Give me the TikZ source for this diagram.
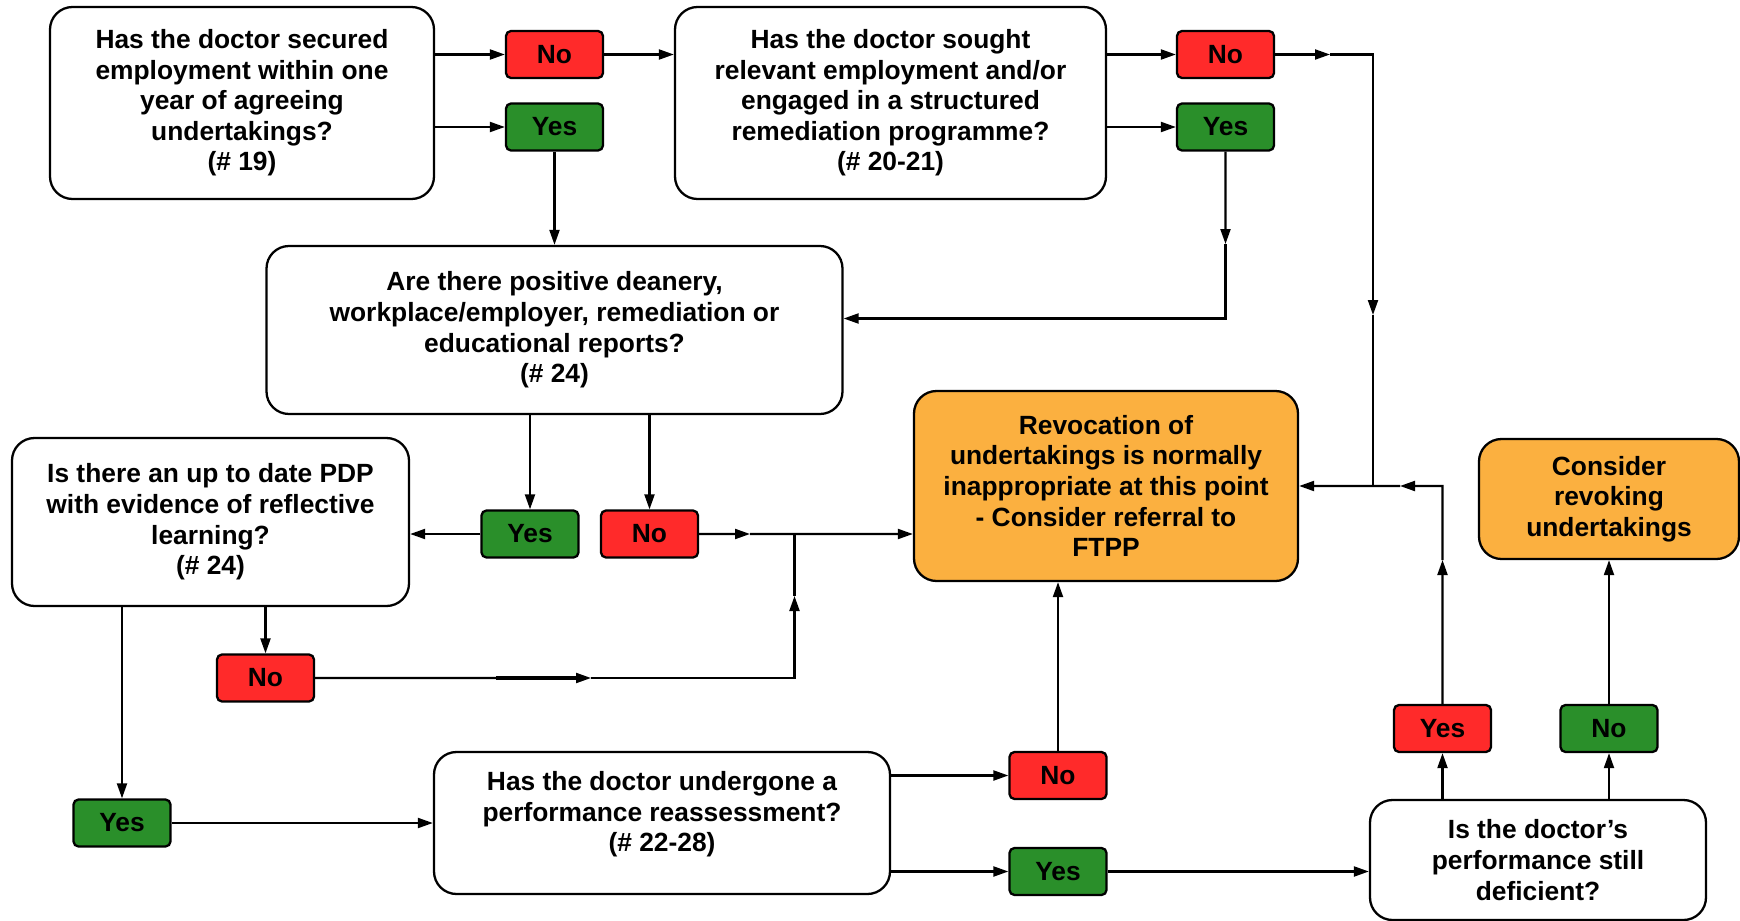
\documentclass[tikz,border=0pt]{standalone}
\usepackage{fontspec}
\setmainfont{Liberation Sans}
\usetikzlibrary{shapes.geometric, arrows.meta, positioning, calc}
\definecolor{tagred}{RGB}{255,42,42}
\definecolor{taggreen}{RGB}{42,143,42}
\definecolor{outorange}{RGB}{251,176,64}
\newcommand{\boxfont}{\bfseries\fontsize{15}{17.4}\selectfont}
\tikzset{
  question/.style={rectangle, rounded corners=0.45cm, draw=black, line width=1.3pt, fill=white, align=center, font=\boxfont},
  outcome/.style={rectangle, rounded corners=0.45cm, draw=black, line width=1.3pt, fill=outorange, align=center, font=\boxfont},
  redtag/.style={rectangle, rounded corners=0.1cm, draw=black, line width=1.3pt, fill=tagred, minimum width=1.94cm, minimum height=0.94cm, font=\boxfont},
  greentag/.style={rectangle, rounded corners=0.1cm, draw=black, line width=1.3pt, fill=taggreen, minimum width=1.94cm, minimum height=0.94cm, font=\boxfont},
  arrow/.style={line width=1.2pt, ->, >={Triangle[length=3mm, width=2mm]}},
  line/.style={line width=1.2pt}
}

\begin{document}
\begin{tikzpicture}[on grid]
\useasboundingbox (0,0) rectangle (34.8,-18.42);

% Nodes
\node (q1) [question, minimum width=7.68cm, minimum height=3.84cm] at (4.84,-2.06) {Has the doctor secured\\employment within one\\year of agreeing\\undertakings?\\(\# 19)};
\node (no1) [redtag, above right=0.97cm and 6.25cm of q1] {No};
\node (yes1) [greentag, below=1.45cm of no1] {Yes};
\node (q2) [question, minimum width=8.62cm, minimum height=3.84cm, right=12.97cm of q1] {Has the doctor sought\\relevant employment and/or\\engaged in a structured\\remediation programme?\\(\# 20-21)};
\node (no2) [redtag, above right=0.97cm and 6.70cm of q2] {No};
\node (yes2) [greentag, below=1.45cm of no2] {Yes};
\node (q3) [question, minimum width=11.52cm, minimum height=3.36cm, below=4.06cm of yes1] {Are there positive deanery,\\workplace/employer, remediation or\\educational reports?\\(\# 24)};
\node (yes3) [greentag, below left=4.08cm and 0.49cm of q3] {Yes};
\node (no3) [redtag, right=2.39cm of yes3] {No};
\node (q4) [question, minimum width=7.94cm, minimum height=3.36cm, above left=0.24cm and 6.39cm of yes3] {Is there an up to date PDP\\with evidence of reflective\\learning?\\(\# 24)};
\node (revoc) [outcome, minimum width=7.68cm, minimum height=3.8cm, above right=0.96cm and 9.13cm of no3] {Revocation of\\undertakings is normally\\inappropriate at this point\\- Consider referral to\\FTPP};
\node (no4) [redtag, below right=3.12cm and 1.10cm of q4] {No};
\node (yes4) [greentag, below left=6.02cm and 1.77cm of q4] {Yes};
\node (q5) [question, minimum width=9.12cm, minimum height=2.84cm, text depth=0.45cm, right=10.80cm of yes4] {Has the doctor undergone a\\performance reassessment?\\(\# 22-28)};
\node (no5) [redtag, above right=0.95cm and 7.92cm of q5] {No};
\node (yes5) [greentag, below=1.92cm of no5] {Yes};
\node (q6) [question, minimum width=6.72cm, minimum height=2.4cm, above right=0.23cm and 9.60cm of yes5] {Is the doctor’s\\performance still\\deficient?};
\node (yes6) [redtag, above left=2.63cm and 1.91cm of q6] {Yes};
\node (no6) [greentag, right=3.33cm of yes6] {No};
\node (consider) [outcome, minimum width=5.2cm, minimum height=2.4cm, above=4.59cm of no6] {Consider\\revoking\\undertakings};

% Junction points
\coordinate (n2tip) at (26.60,-1.09);
\coordinate (n2turn) at (27.46,-1.09);
\coordinate (n2vtip) at (27.46,-6.30);
\coordinate (busjoin) at (n2turn |- revoc.east);
\coordinate (y2tip) at (24.51,-4.88);
\coordinate (y2turn) at (24.51,-6.37);
\coordinate (n3tip) at (15.00,-10.68);
\coordinate (jn) at (15.89,-10.68);
\coordinate (n4thick) at (9.92,-13.56);
\coordinate (n4tip) at (11.82,-13.56);
\coordinate (n4turn) at (15.89,-13.56);
\coordinate (n4vtip) at (15.89,-11.92);
\coordinate (y6tip) at (28.85,-11.20);
\coordinate (y6turn) at (yes6 |- revoc.east);
\coordinate (y6htip) at (28.00,-9.72);

% Arrows
\draw [arrow] (q1.east |- no1) -- (no1);
\draw [arrow] (q1.east |- yes1) -- (yes1);
\draw [arrow] (no1) -- (q2.west |- no1);
\draw [arrow] (yes1) -- (q3);
\draw [arrow] (q2.east |- no2) -- (no2);
\draw [arrow] (q2.east |- yes2) -- (yes2);

\draw [arrow] (no2) -- (n2tip);
\draw [arrow] (n2tip) -- (n2turn) -- (n2vtip);
\draw [line] (n2vtip) -- (busjoin);
\draw [arrow] (yes2) -- (y2tip);
\draw [arrow] (y2tip) -- (y2turn) -- (q3.east |- y2turn);

\draw [arrow] (q3.south -| yes3) -- (yes3);
\draw [arrow] (q3.south -| no3) -- (no3);
\draw [arrow] (yes3) -- (q4.east |- yes3);
\draw [arrow] (no3) -- (n3tip);
\draw [arrow] (n3tip) -- (revoc.west |- no3);

\draw [arrow] (q4.south -| no4) -- (no4);
\draw [arrow] (q4.south -| yes4) -- (yes4);
\draw [arrow] (no4) -- (n4tip);
\draw [line, line width=2.2pt] (n4thick) -- ($(n4tip)+(-0.25,0)$);
\draw [arrow] (n4tip) -- (n4turn) -- (n4vtip);
\draw [line] (n4vtip) -- (jn);

\draw [arrow] (yes4) -- (q5.west |- yes4);
\draw [arrow] (q5.east |- no5) -- (no5);
\draw [arrow] (q5.east |- yes5) -- (yes5);
\draw [arrow] (no5) -- (revoc.south -| no5);
\draw [arrow] (yes5) -- (q6.west |- yes5);

\draw [arrow] (q6.north -| yes6) -- (yes6);
\draw [arrow] (q6.north -| no6) -- (no6);
\draw [arrow] (no6) -- (consider);
\draw [arrow] (yes6) -- (y6tip);
\draw [arrow] (y6tip) -- (y6turn) -- (y6htip);
\draw [arrow] (y6htip) -- (revoc.east);
\end{tikzpicture}
\end{document}
